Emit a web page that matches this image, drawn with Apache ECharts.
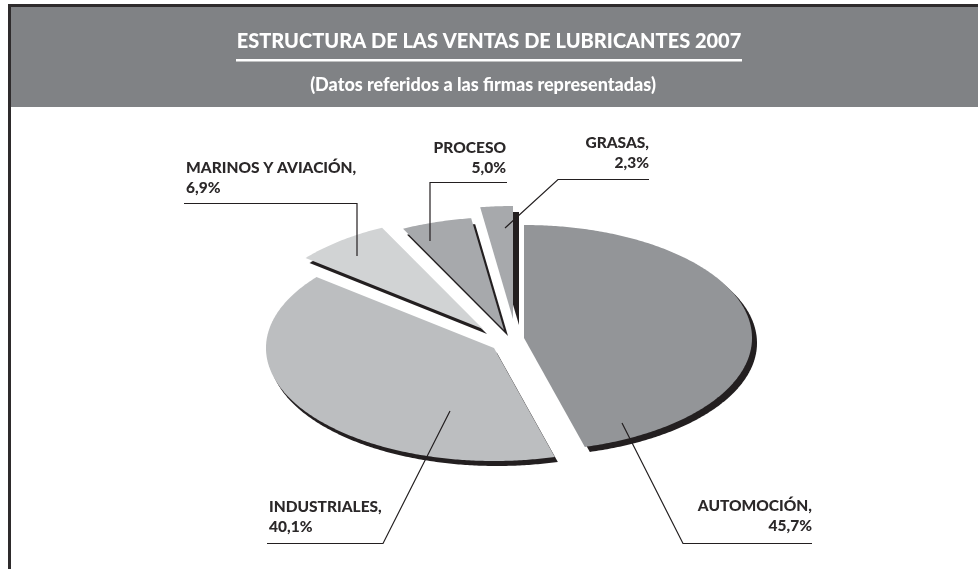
<!DOCTYPE html>
<html>
<head>
<meta charset="utf-8">
<style>html,body{margin:0;padding:0;background:#fff}#c{width:978px;height:569px}</style>
<script src="https://cdn.jsdelivr.net/npm/echarts@6/dist/echarts.min.js"></script>
</head>
<body>
<div id="c"></div>
<script>
const categories = ['AUTOMOCIÓN,', 'INDUSTRIALES,', 'MARINOS Y AVIACIÓN,', 'PROCESO', 'GRASAS,'];
const values = [45.7, 40.1, 6.9, 5.0, 2.3];
const titleText = 'ESTRUCTURA DE LAS VENTAS DE LUBRICANTES 2007';
const subtitleText = '(Datos referidos a las firmas representadas)';

const sliceColors = ['#939598', '#bcbec0', '#d1d3d4', '#a7a9ac', '#a7a9ac'];
const shadowColor = '#231f20';
const FONT = 'Lato, "Open Sans", sans-serif';
const pie = { cx: 524, cy: 338, rx: 228, ry: 113 };
// explode offset of each slice from the shared pie centre
const explode = [[0, 0], [-30, 10], [-41, -9], [-20, -8], [-11, -19]];
const shadowOffset = [[5, 5], [3, 5], [4, 5], [4, 6], [6, 6]];
// annotation callouts
const leaders = [
  [[622, 423], [683, 543.5], [812, 543.5]],
  [[450, 411], [383, 543.5], [267, 543.5]],
  [[357, 256], [357, 203.5], [184, 203.5]],
  [[430, 241], [430, 182.5], [507, 182.5]],
  [[505, 228], [558, 179.5], [649, 179.5]]
];
const labelAnchors = [
  { x: 812, y: 516, align: 'right' },
  { x: 269, y: 516.5, align: 'left' },
  { x: 186, y: 178, align: 'left' },
  { x: 506, y: 157.5, align: 'right' },
  { x: 649, y: 152.5, align: 'right' }
];

const total = values.reduce((a, b) => a + b, 0);
function sliceAngles(i) {
  let s = 0;
  for (let k = 0; k < i; k++) s += values[k];
  return [s / total * 2 * Math.PI, (s + values[i]) / total * 2 * Math.PI];
}
function slicePoints(i, dx, dy) {
  const [a0, a1] = sliceAngles(i);
  const cx = pie.cx + explode[i][0] + dx, cy = pie.cy + explode[i][1] + dy;
  const pts = [[cx, cy]];
  const n = Math.max(6, Math.ceil((a1 - a0) / 0.01));
  for (let k = 0; k <= n; k++) {
    const a = a0 + (a1 - a0) * k / n;
    pts.push([cx + pie.rx * Math.sin(a), cy - pie.ry * Math.cos(a)]);
  }
  return pts;
}
const fmt = v => v.toFixed(1).replace('.', ',') + '%';

const chart = echarts.init(document.getElementById('c'), null, { renderer: 'canvas' });
chart.setOption({
  animation: false,
  backgroundColor: '#ffffff',
  title: [
    { text: titleText, left: 484, top: 27, textAlign: 'center',
      textStyle: { color: '#fff', fontFamily: FONT, fontWeight: 900, fontSize: 20 } },
    { text: subtitleText, left: 478, top: 71, textAlign: 'center',
      textStyle: { color: '#fff', fontFamily: FONT, fontWeight: 900, fontSize: 18 } }
  ],
  graphic: [
    { type: 'rect', z: -10, silent: true, shape: { x: 10, y: 6, width: 968, height: 101 }, style: { fill: '#808285' } },
    { type: 'rect', z: -9, silent: true, shape: { x: 8, y: 4, width: 970, height: 3 }, style: { fill: '#2e2b2c' } },
    { type: 'rect', z: -9, silent: true, shape: { x: 8, y: 4, width: 3, height: 565 }, style: { fill: '#2e2b2c' } },
    { type: 'rect', z: -8, silent: true, shape: { x: 236, y: 59, width: 506, height: 2.5 }, style: { fill: '#ffffff' } }
  ],
  series: [
    {
      type: 'custom',
      coordinateSystem: 'none',
      silent: true,
      z: 2,
      data: values.map((v, i) => ({ name: categories[i], value: [v, i] })),
      renderItem: function (params, api) {
        const i = api.value(1);
        return {
          type: 'group',
          children: [
            { type: 'polygon', shape: { points: slicePoints(i, shadowOffset[i][0], shadowOffset[i][1]) }, style: { fill: shadowColor } },
            { type: 'polygon', shape: { points: slicePoints(i, 0, 0) }, style: { fill: sliceColors[i] } }
          ]
        };
      }
    },
    {
      type: 'custom',
      coordinateSystem: 'none',
      silent: true,
      z: 3,
      data: values.map((v, i) => ({ name: categories[i], value: [v, i] })),
      renderItem: function (params, api) {
        const i = api.value(1);
        const a = labelAnchors[i];
        return {
          type: 'group',
          children: [
            { type: 'polyline', shape: { points: leaders[i] }, style: { fill: null, stroke: '#231f20', lineWidth: 1.2 } },
            { type: 'text', style: {
                x: a.x, y: a.y, text: categories[i] + '\n' + fmt(api.value(0)),
                align: a.align, verticalAlign: 'middle', lineHeight: 20,
                font: '900 15.5px ' + FONT, fill: '#2b2829' } }
          ]
        };
      }
    }
  ]
});
</script>
</body>
</html>
